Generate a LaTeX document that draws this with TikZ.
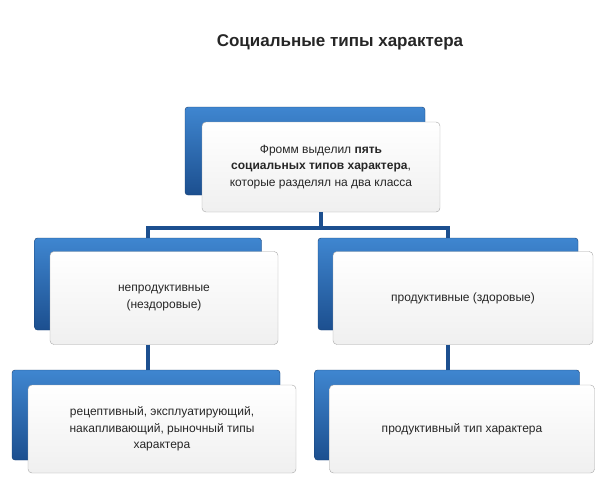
\documentclass[tikz,border=0pt]{standalone}
\usepackage{fontspec}
\setmainfont{Liberation Sans}
\usetikzlibrary{positioning}
\definecolor{darkblue}{HTML}{1C4F8F}
\definecolor{midblue}{HTML}{3F86D0}
\tikzset{
  backbox/.style={rounded corners=3pt, top color=midblue, bottom color=darkblue, draw=darkblue!80!black, minimum width=#1},
  frontbox/.style={rounded corners=4pt, draw=gray!70, top color=white, bottom color=gray!12, align=center, font=\fontsize{12}{16.5}\selectfont, text=black!85},
  link/.style={draw=darkblue, line width=3.5pt}
}
\begin{document}
\begin{tikzpicture}[x=1pt,y=-1pt]
    \useasboundingbox (0,0) rectangle (604,485);
    \node[font=\bfseries\fontsize{17}{20}\selectfont, text=black!85] (title) at (340,42) {Социальные типы характера};

    % top
    \node[backbox, minimum width=240pt, minimum height=88pt] (topback) at (305,151) {};
    \node[frontbox, minimum width=238pt, minimum height=90pt] (top) at (321,167)
        {Фромм выделил \textbf{пять}\\\textbf{социальных типов характера},\\которые разделял на два класса};

    % middle row
    \node[backbox, minimum width=227pt, minimum height=92pt] (leftback) at (148,284) {};
    \node[backbox, minimum width=260pt, minimum height=92pt] (rightback) at (448,284) {};
    \draw[link] (top.south) -- ++(0,16) -| (leftback.north);
    \draw[link] (top.south) -- ++(0,16) -| (rightback.north);
    \node[frontbox, minimum width=228pt, minimum height=93pt] (left) at (164,298)
        {непродуктивные\\(нездоровые)};
    \node[frontbox, minimum width=260pt, minimum height=93pt] (right) at (463,298)
        {продуктивные (здоровые)};

    % bottom row
    \node[backbox, minimum width=268pt, minimum height=90pt] (lowleftback) at (146,415) {};
    \node[backbox, minimum width=265pt, minimum height=90pt] (lowrightback) at (447,415) {};
    \draw[link] (left.south -| leftback) -- (lowleftback.north -| leftback);
    \draw[link] (right.south -| rightback) -- (lowrightback.north -| rightback);
    \node[frontbox, minimum width=268pt, minimum height=88pt] (lowleft) at (162,429)
        {рецептивный, эксплуатирующий,\\накапливающий, рыночный типы\\характера};
    \node[frontbox, minimum width=265pt, minimum height=88pt] (lowright) at (462,429)
        {продуктивный тип характера};
\end{tikzpicture}
\end{document}
